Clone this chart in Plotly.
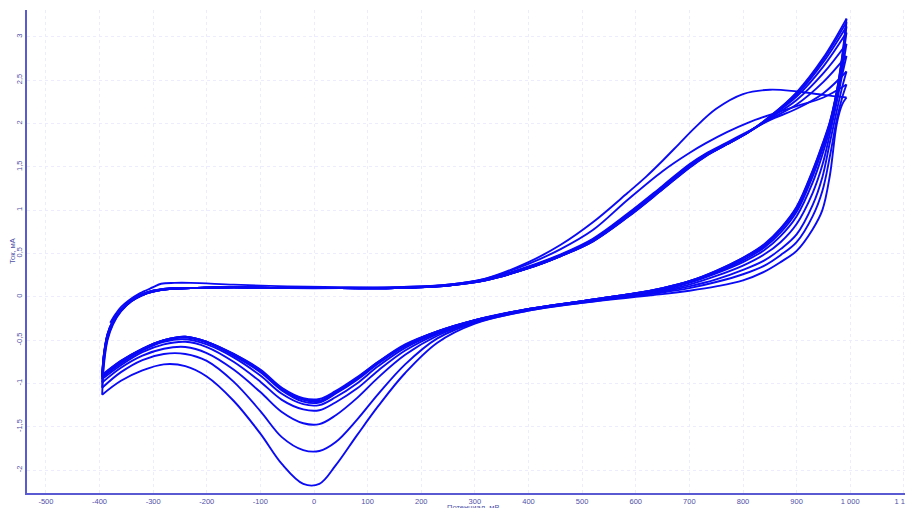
import plotly.graph_objects as go

# ---------------- data ----------------
# forward (anodic) potential grid, mV
E_fwd = [-395, -392, -385, -375, -360, -340, -320, -300, -270, -230, -150, -50, 50, 150,
         250, 320, 400, 460, 520, 585, 650, 700, 730, 770, 810, 850, 900, 950, 993]
# reverse (cathodic) potential grid, mV
E_rev = [993, 985, 975, 962, 948, 930, 900, 870, 840, 800, 750, 700, 650, 600, 500, 400,
         300, 230, 170, 120, 80, 40, 10, -20, -60, -100, -150, -200, -240, -280, -320, -360, -395]

# first (initial) anodic sweep starts at -380 mV
E_fwd_first = [-380, -370, -360, -345, -325, -300, -285, -260, -230, -150, -50, 50, 150, 250,
               320, 400, 460, 520, 585, 620, 650, 680, 710, 750, 800, 850, 900, 950, 993]
I_fwd_first = [-0.30, -0.20, -0.12, -0.04, 0.04, 0.11, 0.15, 0.16, 0.16, 0.14, 0.12, 0.11, 0.11, 0.14,
               0.21, 0.40, 0.60, 0.86, 1.20, 1.39, 1.57, 1.76, 1.95, 2.17, 2.34, 2.39, 2.37, 2.33, 2.30]

# anodic sweeps of cycles 2..9, mA
I_fwd_c2 = [-1.13, -0.80, -0.50, -0.32, -0.17, -0.05, 0.02, 0.06, 0.09, 0.10, 0.11, 0.10, 0.10, 0.11,
            0.14, 0.21, 0.38, 0.55, 0.77, 1.12, 1.45, 1.66, 1.77, 1.90, 2.01, 2.10, 2.20, 2.30, 2.45]
I_fwd_c3 = [-1.05, -0.76, -0.48, -0.31, -0.16, -0.05, 0.02, 0.06, 0.09, 0.10, 0.11, 0.10, 0.10, 0.10,
            0.14, 0.20, 0.35, 0.49, 0.67, 0.96, 1.28, 1.53, 1.65, 1.78, 1.91, 2.04, 2.17, 2.35, 2.60]
I_fwd_c4 = [-0.99, -0.72, -0.46, -0.30, -0.16, -0.05, 0.02, 0.06, 0.09, 0.10, 0.11, 0.10, 0.10, 0.10,
            0.13, 0.20, 0.34, 0.48, 0.66, 0.95, 1.27, 1.52, 1.64, 1.77, 1.90, 2.05, 2.22, 2.48, 2.78]
I_fwd_c5 = [-0.95, -0.70, -0.45, -0.29, -0.15, -0.04, 0.02, 0.06, 0.09, 0.10, 0.11, 0.10, 0.10, 0.10,
            0.13, 0.20, 0.34, 0.48, 0.65, 0.94, 1.26, 1.51, 1.64, 1.77, 1.90, 2.06, 2.27, 2.58, 2.92]
I_fwd_c6 = [-0.93, -0.69, -0.44, -0.29, -0.15, -0.04, 0.03, 0.07, 0.09, 0.10, 0.11, 0.10, 0.10, 0.10,
            0.13, 0.19, 0.33, 0.47, 0.65, 0.93, 1.25, 1.50, 1.63, 1.76, 1.90, 2.07, 2.31, 2.66, 3.05]
I_fwd_c7 = [-0.92, -0.68, -0.44, -0.28, -0.15, -0.04, 0.03, 0.07, 0.09, 0.10, 0.11, 0.10, 0.10, 0.10,
            0.13, 0.19, 0.33, 0.47, 0.64, 0.93, 1.25, 1.50, 1.63, 1.76, 1.90, 2.07, 2.33, 2.71, 3.12]
I_fwd_c8 = [-0.92, -0.68, -0.43, -0.28, -0.15, -0.04, 0.03, 0.07, 0.10, 0.10, 0.11, 0.10, 0.10, 0.10,
            0.13, 0.19, 0.33, 0.47, 0.64, 0.92, 1.24, 1.49, 1.62, 1.76, 1.90, 2.08, 2.35, 2.74, 3.17]
I_fwd_c9 = [-0.91, -0.67, -0.43, -0.28, -0.15, -0.04, 0.03, 0.07, 0.10, 0.10, 0.11, 0.10, 0.10, 0.10,
            0.13, 0.19, 0.33, 0.47, 0.64, 0.92, 1.24, 1.49, 1.62, 1.76, 1.90, 2.08, 2.36, 2.76, 3.21]

# cathodic sweeps of cycles 1..9, mA
I_rev_c1 = [2.30, 2.22, 2.00, 1.40, 1.00, 0.78, 0.53, 0.40, 0.29, 0.19, 0.12, 0.07, 0.03, 0.00, -0.07, -0.16,
            -0.31, -0.53, -0.88, -1.26, -1.60, -1.95, -2.16, -2.16, -1.93, -1.58, -1.20, -0.92, -0.80, -0.78,
            -0.85, -0.97, -1.13]
I_rev_c2 = [2.45, 2.30, 2.05, 1.62, 1.22, 0.93, 0.63, 0.48, 0.36, 0.26, 0.17, 0.10, 0.05, 0.01, -0.07, -0.16,
            -0.30, -0.48, -0.78, -1.12, -1.42, -1.68, -1.78, -1.77, -1.62, -1.32, -0.98, -0.74, -0.66, -0.66,
            -0.73, -0.87, -1.05]
I_rev_c3 = [2.60, 2.42, 2.15, 1.78, 1.38, 1.06, 0.72, 0.55, 0.42, 0.31, 0.20, 0.12, 0.06, 0.02, -0.06, -0.15,
            -0.29, -0.45, -0.67, -0.93, -1.17, -1.37, -1.47, -1.46, -1.33, -1.10, -0.84, -0.65, -0.58, -0.60,
            -0.68, -0.82, -0.99]
I_rev_c4 = [2.78, 2.56, 2.25, 1.88, 1.52, 1.20, 0.84, 0.63, 0.49, 0.36, 0.24, 0.14, 0.07, 0.03, -0.06, -0.15,
            -0.28, -0.43, -0.62, -0.85, -1.06, -1.22, -1.31, -1.30, -1.19, -0.98, -0.75, -0.58, -0.52, -0.55,
            -0.64, -0.79, -0.95]
I_rev_c5 = [2.92, 2.62, 2.30, 1.94, 1.64, 1.32, 0.93, 0.70, 0.54, 0.40, 0.27, 0.16, 0.08, 0.03, -0.05, -0.15,
            -0.28, -0.42, -0.59, -0.80, -1.00, -1.16, -1.25, -1.24, -1.12, -0.91, -0.70, -0.55, -0.49, -0.52,
            -0.62, -0.77, -0.93]
I_rev_c6 = [3.05, 2.70, 2.34, 1.98, 1.70, 1.39, 0.98, 0.74, 0.57, 0.42, 0.28, 0.17, 0.09, 0.04, -0.05, -0.14,
            -0.27, -0.41, -0.57, -0.77, -0.96, -1.12, -1.22, -1.21, -1.08, -0.87, -0.68, -0.53, -0.47, -0.51,
            -0.61, -0.75, -0.92]
I_rev_c7 = [3.12, 2.74, 2.36, 2.00, 1.73, 1.43, 1.01, 0.77, 0.59, 0.44, 0.29, 0.18, 0.10, 0.04, -0.05, -0.14,
            -0.27, -0.40, -0.56, -0.76, -0.95, -1.11, -1.21, -1.19, -1.07, -0.86, -0.67, -0.52, -0.46, -0.50,
            -0.60, -0.75, -0.92]
I_rev_c8 = [3.17, 2.76, 2.37, 2.01, 1.75, 1.45, 1.03, 0.78, 0.60, 0.45, 0.30, 0.18, 0.10, 0.04, -0.05, -0.14,
            -0.27, -0.40, -0.56, -0.75, -0.94, -1.10, -1.20, -1.18, -1.06, -0.85, -0.66, -0.52, -0.46, -0.50,
            -0.60, -0.74, -0.91]
I_rev_c9 = [3.21, 2.78, 2.38, 2.02, 1.76, 1.46, 1.04, 0.79, 0.61, 0.45, 0.30, 0.18, 0.10, 0.04, -0.05, -0.14,
            -0.27, -0.40, -0.55, -0.75, -0.93, -1.09, -1.18, -1.17, -1.05, -0.84, -0.66, -0.52, -0.46, -0.50,
            -0.60, -0.74, -0.90]

x_tickvals = [-500, -400, -300, -200, -100, 0, 100, 200, 300, 400, 500, 600, 700, 800, 900, 1000, 1100]
x_ticktext = ["-500", "-400", "-300", "-200", "-100", "0", "100", "200", "300", "400", "500", "600",
              "700", "800", "900", "1 000", "1 100"]
y_tickvals = [-2, -1.5, -1, -0.5, 0, 0.5, 1, 1.5, 2, 2.5, 3]
y_ticktext = ["-2", "-1,5", "-1", "-0,5", "0", "0,5", "1", "1,5", "2", "2,5", "3"]

x_title = "Потенциал, мВ"
y_title = "Ток, мА"

# ---------------- figure ----------------
LINE = dict(color="#0a0af5", width=1.9, shape="spline", smoothing=1.0)

fwd_sets = [(E_fwd_first, I_fwd_first)] + [(E_fwd, c) for c in
            (I_fwd_c2, I_fwd_c3, I_fwd_c4, I_fwd_c5, I_fwd_c6, I_fwd_c7, I_fwd_c8, I_fwd_c9)]
rev_sets = [I_rev_c1, I_rev_c2, I_rev_c3, I_rev_c4, I_rev_c5, I_rev_c6, I_rev_c7, I_rev_c8, I_rev_c9]

fig = go.Figure()
for (ef, i_f), i_r in zip(fwd_sets, rev_sets):
    fig.add_trace(go.Scatter(x=ef, y=i_f, mode="lines", line=LINE, hoverinfo="skip"))
    fig.add_trace(go.Scatter(x=E_rev, y=i_r, mode="lines", line=LINE, hoverinfo="skip"))

AX_COL = "#5a5ad2"
TICK_COL = "#5050a8"
GRID_COL = "#ececfc"
FONT = "Liberation Sans, Arial, sans-serif"

# the page body has an 8px default margin, so the figure is 8px smaller
fig.update_layout(
    width=905, height=500,
    margin=dict(l=19, r=0, t=2, b=15),
    paper_bgcolor="white", plot_bgcolor="white",
    showlegend=False,
    font=dict(family=FONT, size=7.5, color=TICK_COL),
    xaxis=dict(range=[-535.2, 1107.7], tickvals=x_tickvals, ticktext=x_ticktext,
               showgrid=True, gridcolor=GRID_COL, gridwidth=1, griddash="dot",
               zeroline=False, showline=True, linecolor=AX_COL, linewidth=1.5,
               ticks="", ticklabeloverflow="allow",
               tickfont=dict(family=FONT, size=7.5, color=TICK_COL)),
    yaxis=dict(range=[-2.265, 3.31], tickvals=y_tickvals, ticktext=y_ticktext,
               showgrid=True, gridcolor=GRID_COL, gridwidth=1, griddash="dot",
               zeroline=False, showline=True, linecolor=AX_COL, linewidth=1.5,
               ticks="", tickangle=-90,
               tickfont=dict(family=FONT, size=7.5, color=TICK_COL)),
    annotations=[
        dict(text=y_title, xref="paper", yref="paper", x=-0.0165, y=0.502,
             xanchor="center", yanchor="middle", textangle=-90, showarrow=False,
             font=dict(family=FONT, size=7.5, color=TICK_COL)),
        dict(text=x_title, xref="paper", yref="paper", x=0.506, y=-0.031,
             xanchor="center", yanchor="middle", showarrow=False,
             font=dict(family=FONT, size=7.5, color=TICK_COL)),
    ],
)

fig.write_html("out.html")
